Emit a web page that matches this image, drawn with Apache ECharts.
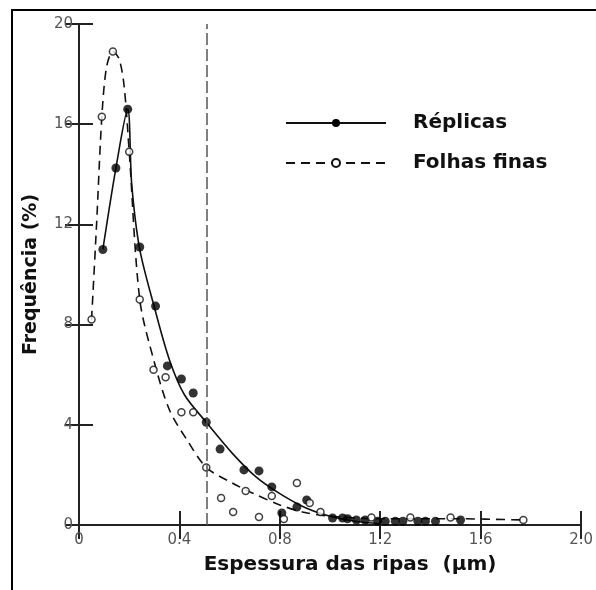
<!DOCTYPE html>
<html><head><meta charset="utf-8">
<script src="https://cdn.jsdelivr.net/npm/echarts@6/dist/echarts.min.js"></script>
<style>html,body{margin:0;padding:0;background:#fff}#c{width:596px;height:590px}</style>
</head><body><div id="c"></div>
<script>
// Measured points (thickness µm, frequency %)
const replicasPoints = [[0.095,11.0],[0.147,14.25],[0.194,16.6],[0.242,11.1],[0.305,8.74],[0.352,6.35],[0.408,5.83],[0.455,5.27],[0.507,4.1],[0.562,3.03],[0.657,2.2],[0.717,2.16],[0.768,1.52],[0.808,0.48],[0.868,0.72],[0.907,1.0],[1.01,0.28],[1.05,0.28],[1.07,0.25],[1.105,0.2],[1.14,0.2],[1.19,0.15],[1.22,0.15],[1.26,0.15],[1.29,0.15],[1.35,0.15],[1.38,0.15],[1.42,0.15],[1.52,0.2]];
const folhasPoints = [[0.05,8.2],[0.091,16.3],[0.135,18.9],[0.2,14.9],[0.242,9.0],[0.297,6.2],[0.345,5.9],[0.408,4.5],[0.455,4.5],[0.507,2.3],[0.566,1.08],[0.614,0.52],[0.664,1.36],[0.717,0.32],[0.768,1.16],[0.816,0.24],[0.868,1.68],[0.919,0.88],[0.962,0.52],[1.165,0.3],[1.32,0.3],[1.48,0.3],[1.77,0.2]];
// Fitted curves
const replicasCurve = [[0.095,11.0],[0.147,14.25],[0.194,16.6],[0.21,13.6],[0.242,11.0],[0.3,8.7],[0.36,6.6],[0.42,5.2],[0.507,4.1],[0.61,2.87],[0.705,1.92],[0.8,1.25],[0.9,0.7],[1.0,0.35],[1.1,0.15],[1.2,0.05]];
const folhasCurve = [[0.05,8.2],[0.07,12],[0.091,16.3],[0.11,18.3],[0.135,18.9],[0.16,18.6],[0.18,17.5],[0.2,14.9],[0.242,9.0],[0.3,6.5],[0.36,4.6],[0.43,3.4],[0.507,2.3],[0.61,1.68],[0.69,1.28],[0.8,0.8],[0.9,0.5],[1.0,0.35],[1.2,0.25],[1.5,0.25],[1.77,0.2]];
const thresholdX = 0.505;
const xTicks = ['0','0.4','0.8','1.2','1.6','2.0'];
const seriesNames = ['Réplicas','Folhas finas'];
const xTitle = 'Espessura das ripas  (µm)';
const yTitle = 'Frequência (%)';

const chart = echarts.init(document.getElementById('c'));
const axisCol = '#222';
const lblStyle = {color:'#555', fontSize:15, fontFamily:'DejaVu Sans'};
chart.setOption({
  animation:false,
  backgroundColor:'#fff',
  grid:{left:79, top:24, right:12, bottom:65},
  legend:{
    data:seriesNames, orient:'vertical', left:280, top:108, itemWidth:100, itemHeight:10, itemGap:20,
    textStyle:{fontFamily:'DejaVu Sans', fontWeight:'bold', fontSize:20, color:'#111', padding:[0,0,0,22]}
  },
  graphic:[{type:'rect', shape:{x:12,y:10,width:620,height:620}, style:{fill:'none', stroke:'#000', lineWidth:2}, silent:true, z:-1}],
  xAxis:[{
    type:'value', min:0, max:2, interval:0.4, position:'bottom',
    name:xTitle, nameLocation:'middle', nameGap:30,
    nameTextStyle:{fontFamily:'DejaVu Sans', fontWeight:'bold', fontSize:20, color:'#111', padding:[0,0,0,40]},
    axisLine:{lineStyle:{color:axisCol, width:2}},
    axisTick:{inside:true, length:14, lineStyle:{color:axisCol, width:2}},
    axisLabel:Object.assign({margin:8, formatter:(v,i)=>xTicks[Math.round(v/0.4)]}, lblStyle),
    splitLine:{show:false}
  },{
    type:'value', min:0, max:2, interval:0.4, position:'top',
    axisLine:{lineStyle:{color:axisCol, width:2}},
    axisTick:{inside:true, length:14, lineStyle:{color:axisCol, width:2}},
    axisLabel:{show:false}, splitLine:{show:false}
  }],
  yAxis:[{
    type:'value', min:0, max:20, interval:4, position:'left',
    name:yTitle, nameLocation:'middle', nameGap:38, nameRotate:90,
    nameTextStyle:{fontFamily:'DejaVu Sans', fontWeight:'bold', fontSize:19, color:'#111'},
    axisLine:{lineStyle:{color:axisCol, width:2}},
    axisTick:{inside:true, length:14, lineStyle:{color:axisCol, width:2}},
    axisLabel:Object.assign({margin:6}, lblStyle),
    splitLine:{show:false}
  },{
    type:'value', min:0, max:20, interval:4, position:'right',
    axisLine:{lineStyle:{color:axisCol, width:2}},
    axisTick:{inside:true, length:14, lineStyle:{color:axisCol, width:2}},
    axisLabel:{show:false}, splitLine:{show:false}
  }],
  series:[
    {name:seriesNames[0], type:'line', data:replicasCurve, smooth:0.3, showSymbol:false, symbol:'circle', symbolSize:9,
     itemStyle:{color:'#000'}, lineStyle:{color:'#111', width:1.6}, z:2,
     markLine:{silent:true, symbol:'none', label:{show:false}, lineStyle:{color:'#555', type:[12,4], width:1.5}, data:[{xAxis:thresholdX}]}},
    {name:seriesNames[1], type:'line', data:folhasCurve, smooth:0.3, showSymbol:false, symbol:'circle', symbolSize:7,
     itemStyle:{color:'#fff', borderColor:'#111', borderWidth:1.5}, lineStyle:{color:'#111', width:1.6, type:[9,6]}, z:2},
    {name:seriesNames[0], type:'scatter', data:replicasPoints, symbol:'circle', symbolSize:9, itemStyle:{color:'#000'}, z:3},
    {name:seriesNames[1], type:'scatter', data:folhasPoints, symbol:'circle', symbolSize:7, itemStyle:{color:'#fff', borderColor:'#111', borderWidth:1.5}, z:4}
  ]
});
</script></body></html>
